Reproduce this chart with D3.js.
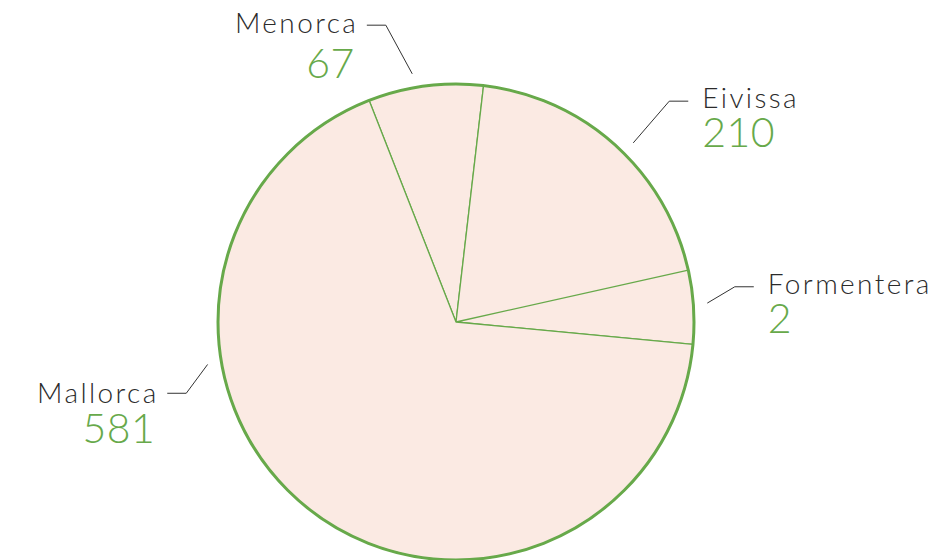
<!DOCTYPE html>
<html lang="es">
<head>
    <meta charset="UTF-8">
    <title>Illes Balears</title>
    <script src="https://d3js.org/d3.v7.min.js"></script>
    <style>
        body, html {
            margin: 0;
            padding: 0;
            overflow: hidden;
            width: 100%;
            height: 100%;
            background: #ffffff;
        }
        svg {
            display: block;
        }
        .name {
            font-family: Lato, "Noto Sans", sans-serif;
            font-weight: 300;
            font-size: 28px;
            letter-spacing: 2.4px;
            fill: #2b2b2b;
        }
        .value {
            font-family: Lato, "Noto Sans", sans-serif;
            font-weight: 300;
            font-size: 41px;
            letter-spacing: 0.5px;
            fill: #67a94a;
        }
    </style>
</head>
<body>
    <svg width="933" height="560"></svg>

    <script>
        const islands = ["Menorca", "Eivissa", "Formentera", "Mallorca"];
        const counts = [67, 210, 2, 581];

        const svg = d3.select("svg");
        const cx = 456, cy = 322, radius = 238;
        const green = "#67a94a";
        const deg = Math.PI / 180;

        const data = islands.map((name, i) => ({ name, value: counts[i] }));

        const start = -21.4 * deg;
        const pie = d3.pie()
            .sort(null)
            .value(d => d.value)
            .startAngle(start)
            .endAngle(start + 2 * Math.PI);

        // tiny slices get a minimum width, drawn back over the previous one
        const minAngle = 0.05 * 2 * Math.PI;
        const arcs = pie(data).map(a => {
            if (a.endAngle - a.startAngle < minAngle) {
                a.startAngle = a.endAngle - minAngle;
            }
            return a;
        });

        const arc = d3.arc().innerRadius(0).outerRadius(radius);
        const g = svg.append("g").attr("transform", `translate(${cx},${cy})`);

        g.selectAll("path.slice")
            .data(arcs)
            .enter().append("path")
            .attr("class", "slice")
            .attr("d", arc)
            .attr("fill", "#fbeae3")
            .attr("stroke", green)
            .attr("stroke-width", 1.3)
            .attr("stroke-linejoin", "round");

        g.append("circle")
            .attr("r", radius)
            .attr("fill", "none")
            .attr("stroke", green)
            .attr("stroke-width", 3);

        // label placement: leader start angle, elbow angle and elbow radius
        const labelLayout = {
            Menorca:    { a0: 350,   a1: 346.7, r1: 305, side: "left",  dy: 8,  numDy: 45 },
            Eivissa:    { a0: 44.7,  a1: 44,    r1: 307, side: "right", dy: 7,  numDy: 39 },
            Formentera: { a0: 85.7,  a1: 82.8,  r1: 281, side: "right", dy: 7,  numDy: 39 },
            Mallorca:   { a0: 260.3, a1: 255.2, r1: 279, side: "left",  dy: 10, numDy: 40 }
        };
        const polar = (a, r) => [r * Math.sin(a * deg), -r * Math.cos(a * deg)];

        arcs.forEach(a => {
            const L = labelLayout[a.data.name];
            const p0 = polar(L.a0, 252);
            const p1 = polar(L.a1, L.r1);
            const dir = L.side === "left" ? -1 : 1;
            const p2 = [p1[0] + dir * 19, p1[1]];

            g.append("path")
                .attr("d", d3.line()([p0, p1, p2]))
                .attr("fill", "none")
                .attr("stroke", "#333")
                .attr("stroke-width", 1);

            // end-anchored text carries the trailing letter-spacing, so nudge it
            const tx = L.side === "left" ? p2[0] - 11 + 2.4 : p2[0] + 14;
            const anchor = L.side === "left" ? "end" : "start";
            g.append("text")
                .attr("class", "name")
                .attr("x", tx)
                .attr("y", p1[1] + L.dy)
                .attr("text-anchor", anchor)
                .text(a.data.name);
            g.append("text")
                .attr("class", "value")
                .attr("x", L.side === "left" ? p2[0] - 12 : p2[0] + 14)
                .attr("y", p1[1] + L.dy + L.numDy)
                .attr("text-anchor", anchor)
                .text(d3.format("d")(a.data.value));
        });
    </script>
</body>
</html>
